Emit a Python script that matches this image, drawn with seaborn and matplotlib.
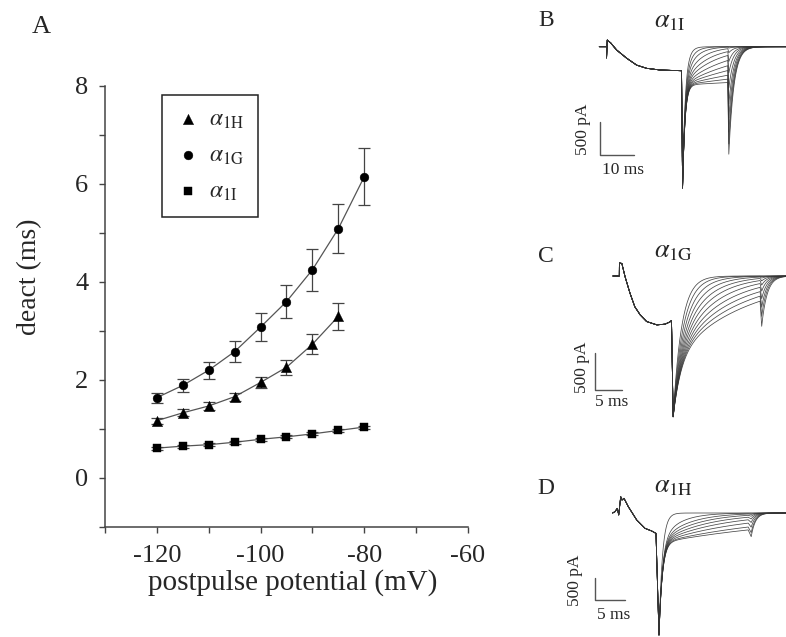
import numpy as np
import matplotlib
matplotlib.use("Agg")
import matplotlib.pyplot as plt
from matplotlib.ticker import MultipleLocator
import seaborn as sns

# ---- panel A: deactivation tau vs postpulse potential ----
volts = [-120, -115, -110, -105, -100, -95, -90, -85, -80]
tau_1g = [1.64, 1.89, 2.20, 2.58, 3.08, 3.60, 4.25, 5.09, 6.15]
err_1g = [0.10, 0.13, 0.17, 0.22, 0.28, 0.34, 0.43, 0.50, 0.58]
volts_1h = [-120, -115, -110, -105, -100, -95, -90, -85]
tau_1h = [1.17, 1.33, 1.47, 1.66, 1.95, 2.26, 2.73, 3.30]
err_1h = [0.06, 0.07, 0.08, 0.08, 0.12, 0.15, 0.20, 0.28]
tau_1i = [0.61, 0.65, 0.68, 0.73, 0.79, 0.84, 0.90, 0.97, 1.04]
err_1i = [0.03, 0.03, 0.03, 0.03, 0.03, 0.03, 0.03, 0.03, 0.03]

# ---- panels B-D: current traces (ms, pA) ----
# prepulse waveform
b_pre_t = [-0.8, 1.35, 1.35, 1.55, 2.6, 4.3, 7.3, 10.2, 13.1, 17.1, 23.4]
b_pre_i = [0, 0, -170, 101, 55, -50, -176, -279, -327, -353, -364]
c_pre_t = [-0.75, 0.43, 0.45, 0.9, 1.5, 2.4, 3.3, 4.3, 5.5, 7.4, 8.9, 9.8, 10.1]
c_pre_i = [0, 0, 175, 170, -10, -230, -415, -525, -615, -660, -650, -620, -600]
d_pre_t = [-0.4, 0.0, 0.38, 0.62, 0.95, 1.17, 1.5, 2.22, 3.62, 5.0, 6.12, 6.83]
d_pre_i = [0, 30, 106, -45, 370, 295, 333, 143, -159, -348, -409, -462]

# tail families: step times, fast component, slow time constants per trace
b_steps = [23.4, 37.0, 54.1]
b_fast = [1560, 0.7]
b_slow_amp = 580
b_slow_tau = [1.2, 2.0, 3.0, 4.5, 6.5, 9.0, 13.0, 19.0, 28.0, 45.0, 80.0, 200.0]
b_off = [3.0, 1.5]

c_steps = [10.1, 26.5, 31.3]
c_fast = [810, 1.5]
c_slow_amp = 1090
c_slow_tau = [1.6, 2.2, 2.9, 3.7, 4.6, 5.6, 6.8, 8.2, 9.8, 11.6, 13.8]
c_off = [2.0, 1.0]

d_steps = [6.83, 22.2, 28.5]
d_fast = [2090, 0.55]
d_slow_amp = 680
d_slow_tau = [0.6, 3.0, 4.4, 5.8, 7.6, 10.0, 13.7, 19.6, 26.0]
d_off = [1.4, 0.7]


def tail_trace(pre_t, pre_i, steps, fast, slow_amp, slow_tau, off, fall=0.3):
    t1, t2, t_end = steps
    dt_a = np.linspace(0, t2 - t1 - fall, 400)
    i_a = -(fast[0] * np.exp(-dt_a / fast[1]) + slow_amp * np.exp(-dt_a / slow_tau))
    dt_b = np.linspace(0, t_end - t2 - fall, 300)
    i_b = off[0] * i_a[-1] * np.exp(-dt_b / off[1])
    t = np.concatenate([pre_t, t1 + fall + dt_a, t2 + fall + dt_b])
    i = np.concatenate([pre_i, i_a, i_b])
    return t, i


sns.set_style("ticks")
plt.rcParams['font.family'] = ['Liberation Serif', 'DejaVu Serif']
plt.rcParams['mathtext.fontset'] = 'stix'
plt.rcParams['axes.unicode_minus'] = False

fig = plt.figure(figsize=(7.86, 6.37), dpi=100)

# ---------------- panel A ----------------
ax = fig.add_axes([105 / 786, 1 - 527 / 637, 363 / 786, 441 / 637])
series = [
    (volts_1h, tau_1h, err_1h, '^', 55, r'$\alpha_{\mathrm{1H}}$'),
    (volts, tau_1g, err_1g, 'o', 40, r'$\alpha_{\mathrm{1G}}$'),
    (volts, tau_1i, err_1i, 's', 30, r'$\alpha_{\mathrm{1I}}$'),
]
for xs, ys, es, mk, size, lab in series:
    sns.lineplot(x=xs, y=ys, ax=ax, color='#555555', lw=0.9)
    ax.errorbar(xs, ys, yerr=es, fmt='none', ecolor='#444444',
                elinewidth=0.9, capsize=4.5, capthick=0.9)
    sns.scatterplot(x=xs, y=ys, ax=ax, marker=mk, s=size, color='black',
                    edgecolor='black', linewidth=0.3, label=lab, zorder=5)

ax.set_xlim(-130, -60)
ax.set_ylim(-1, 8)
ax.xaxis.set_major_locator(MultipleLocator(20))
ax.xaxis.set_minor_locator(MultipleLocator(10))
ax.yaxis.set_major_locator(MultipleLocator(2))
ax.yaxis.set_minor_locator(MultipleLocator(1))
sns.despine(ax=ax)
for s in ('left', 'bottom'):
    ax.spines[s].set_color('#444444')
    ax.spines[s].set_linewidth(1.1)
ax.tick_params(axis='both', which='both', direction='out', length=4,
               width=1, color='#444444')
ax.tick_params(axis='x', labelsize=19, pad=9)
ax.tick_params(axis='y', labelsize=19, pad=8)
ax.set_xlabel('postpulse potential (mV)', fontsize=21)
ax.set_ylabel('deact (ms)', fontsize=20)
ax.xaxis.set_label_coords(0.518, -0.095)
ax.yaxis.set_label_coords(-0.174, 0.567)

leg = ax.legend(loc='upper left', bbox_to_anchor=(0.157, 0.98), fontsize=17,
                frameon=True, fancybox=False, framealpha=1, edgecolor='#222222',
                borderpad=0.6, labelspacing=0.6, handletextpad=0.4,
                handlelength=1.0, borderaxespad=0)
leg.get_frame().set_linewidth(1.1)

fig.text(41 / 786, 1 - 27 / 637, 'A', fontsize=19, ha='center', va='center')

# ---------------- panels B-D ----------------
panels = [
    # rect, xlim, ylim, pre, steps, fast, slow amp, slow taus, off, fall,
    # title, title pos, scalebar (x, y0, y1, x1), pA text pos, ms text, ms pos
    ([570 / 786, 1 - 200 / 637, 216 / 786, 200 / 637], (-9.41, 54.12), (-2322, 707.5),
     b_pre_t, b_pre_i, b_steps, b_fast, b_slow_amp, b_slow_tau, b_off, 0.3,
     r'$\alpha_{\mathrm{1I}}$', (20.0, 374), (-0.59, -1141, -1641, 9.41),
     (-5.6, -1247), '10 ms', (6.2, -1868)),
    ([570 / 786, 1 - 425 / 637, 216 / 786, 210 / 637], (-8.70, 31.30), (-2011.5, 823.5),
     c_pre_t, c_pre_i, c_steps, c_fast, c_slow_amp, c_slow_tau, c_off, 0.3,
     r'$\alpha_{\mathrm{1G}}$', (10.4, 324), (-4.07, -1039.5, -1539, 0.93),
     (-6.48, -1228), '5 ms', (-0.93, -1701)),
    ([570 / 786, 0, 216 / 786, 197 / 637], (-7.5, 28.5), (-2814.8, 1657.1),
     d_pre_t, d_pre_i, d_steps, d_fast, d_slow_amp, d_slow_tau, d_off, 0.5,
     r'$\alpha_{\mathrm{1H}}$', (9.67, 590), (-3.33, -1475.5, -1975, 1.67),
     (-6.67, -1521), '5 ms', (-0.28, -2315)),
]

for (rect, xl, yl, pt, pi, steps, fast, samp, staus, off, fall,
     title, tpos, bar, pa_pos, ms_txt, ms_pos) in panels:
    axp = fig.add_axes(rect)
    for tau in staus:
        t, i = tail_trace(pt, pi, steps, fast, samp, tau, off, fall)
        sns.lineplot(x=t, y=i, ax=axp, color='#333333', lw=0.55,
                     sort=False, estimator=None, alpha=0.9)
    axp.set_xlim(*xl)
    axp.set_ylim(*yl)
    axp.axis('off')
    axp.text(tpos[0], tpos[1], title, fontsize=19, ha='center', va='center')
    x0, y0, y1, x1 = bar
    axp.plot([x0, x0, x1], [y0, y1, y1], color='#555555', lw=1.0)
    axp.text(pa_pos[0], pa_pos[1], '500 pA', rotation=90, fontsize=12.5,
             ha='center', va='center')
    axp.text(ms_pos[0], ms_pos[1], ms_txt, fontsize=12.5, ha='center', va='center')

for lab, y in (('B', 21), ('C', 256), ('D', 488)):
    fig.text(546 / 786, 1 - y / 637, lab, fontsize=17, ha='center', va='center')

fig.savefig('out.png', dpi=100)
